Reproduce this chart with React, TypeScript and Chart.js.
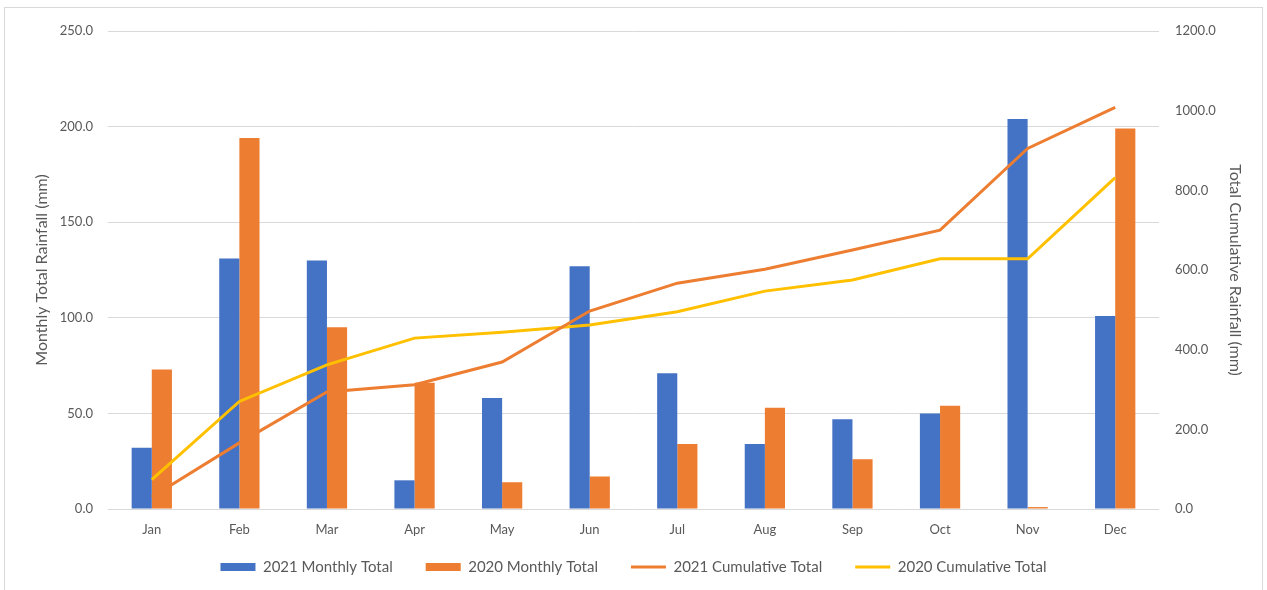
import React, { useEffect, useRef } from "react";
import { Chart, registerables } from "chart.js";

Chart.register(...registerables);

const months = ["Jan", "Feb", "Mar", "Apr", "May", "Jun", "Jul", "Aug", "Sep", "Oct", "Nov", "Dec"];
const monthly2021 = [32, 131, 130, 15, 58, 127, 71, 34, 47, 50, 204, 101];
const monthly2020 = [73, 194, 95, 66, 14, 17, 34, 53, 26, 54, 1, 199];
const cumulative2021 = [30, 166, 294, 312, 369, 497, 567, 602, 650, 700, 905, 1008];
const cumulative2020 = [74, 270, 362, 429, 444, 462, 495, 547, 575, 628, 628, 832];
const leftTicks = [0, 50, 100, 150, 200, 250];
const rightTicks = [0, 200, 400, 600, 800, 1000, 1200];

const FONT = "Lato, 'Open Sans', sans-serif";
const TEXT = "#595959";
const GRID = "#d9d9d9";

const extendXLabelArea = {
  id: "extendXLabelArea",
  afterLayout(chart: any) {
    const x = chart.scales.x;
    if (x) x.bottom = x.top + 45;
  },
};

export default function App() {
  const ref = useRef<HTMLCanvasElement | null>(null);

  useEffect(() => {
    document.body.style.margin = "0";
    const canvas = ref.current;
    if (!canvas) return;
    const chart = new Chart(canvas, {
      type: "bar",
      plugins: [extendXLabelArea],
      data: {
        labels: months,
        datasets: [
          {
            type: "bar",
            label: "2021 Monthly Total",
            data: monthly2021,
            backgroundColor: "#4472C4",
            borderWidth: 0,
            yAxisID: "y",
            order: 2,
            pointStyle: "rect",
          },
          {
            type: "bar",
            label: "2020 Monthly Total",
            data: monthly2020,
            backgroundColor: "#ED7D31",
            borderWidth: 0,
            yAxisID: "y",
            order: 2,
            pointStyle: "rect",
          },
          {
            type: "line",
            label: "2021 Cumulative Total",
            data: cumulative2021,
            borderColor: "#ED7D31",
            backgroundColor: "#ED7D31",
            borderWidth: 3,
            pointRadius: 0,
            tension: 0,
            yAxisID: "y1",
            order: 0,
            pointStyle: "line",
          },
          {
            type: "line",
            label: "2020 Cumulative Total",
            data: cumulative2020,
            borderColor: "#FFC000",
            backgroundColor: "#FFC000",
            borderWidth: 3,
            pointRadius: 0,
            tension: 0,
            yAxisID: "y1",
            order: 1,
            pointStyle: "line",
          },
        ] as any,
      },
      options: {
        responsive: false,
        animation: false,
        layout: { padding: { top: 31, left: 0, right: 0, bottom: 5.5 } },
        datasets: {
          bar: { categoryPercentage: 0.46, barPercentage: 1 },
        } as any,
        plugins: {
          tooltip: { enabled: false },
          legend: {
            position: "bottom",
            labels: {
              usePointStyle: true,
              pointStyleWidth: 35,
              boxHeight: 8,
              padding: 33,
              color: TEXT,
              font: { family: FONT, size: 15 },
              sort: (a: any, b: any) => a.datasetIndex - b.datasetIndex,
            },
          },
        },
        scales: {
          x: {
            grid: { display: false, drawTicks: false },
            border: { display: false },
            ticks: { color: TEXT, font: { family: FONT, size: 13 }, padding: 13 },
            afterFit: (s: any) => {
              s.height = 17.5;
            },
          },
          y: {
            position: "left",
            min: 0,
            max: 250,
            afterBuildTicks: (s: any) => {
              s.ticks = leftTicks.map((v) => ({ value: v }));
            },
            grid: { color: GRID, drawTicks: false, lineWidth: 1 },
            border: { display: false },
            ticks: {
              color: TEXT,
              font: { family: FONT, size: 13 },
              padding: 15,
              callback: (v: any) => Number(v).toFixed(1),
            },
            title: {
              display: true,
              text: "Monthly Total Rainfall (mm)",
              color: TEXT,
              font: { family: FONT, size: 16 },
              padding: { top: 32, bottom: 0 },
            },
            afterFit: (s: any) => {
              s.width = 108;
            },
          },
          y1: {
            position: "right",
            min: 0,
            max: 1200,
            afterBuildTicks: (s: any) => {
              s.ticks = rightTicks.map((v) => ({ value: v }));
            },
            grid: { display: false, drawTicks: false },
            border: { display: false },
            ticks: {
              color: TEXT,
              font: { family: FONT, size: 13 },
              padding: 16,
              callback: (v: any) => Number(v).toFixed(1),
            },
            title: {
              display: true,
              text: "Total Cumulative Rainfall (mm)",
              color: TEXT,
              font: { family: FONT, size: 16 },
              padding: { top: 22, bottom: 0 },
            },
            afterFit: (s: any) => {
              s.width = 108;
            },
          },
        },
      } as any,
    });
    return () => chart.destroy();
  }, []);

  return (
    <div style={{ position: "relative", width: 1267, height: 590, overflow: "hidden", background: "#fff" }}>
      <div
        style={{
          position: "absolute",
          left: 4,
          top: 7,
          width: 1259,
          height: 600,
          border: `1px solid ${GRID}`,
          boxSizing: "border-box",
        }}
      />
      <canvas ref={ref} width={1267} height={590} style={{ position: "absolute", left: 0, top: 0 }} />
    </div>
  );
}
